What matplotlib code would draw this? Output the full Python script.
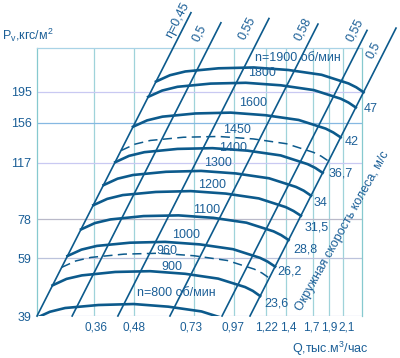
import matplotlib
matplotlib.use("Agg")
import matplotlib.pyplot as plt
from matplotlib.ticker import NullLocator, NullFormatter
from matplotlib.transforms import ScaledTranslation

plt.rcParams['font.family'] = ['Liberation Sans', 'DejaVu Sans']

# Axis ticks
x_ticks = [0.36, 0.48, 0.73, 0.97, 1.22, 1.4, 1.7, 1.9, 2.1]
x_labels = ["0,36", "0,48", "0,73", "0,97", "1,22", "1,4", "1,7", "1,9", "2,1"]
y_ticks = [39, 59, 78, 117, 156, 195]
y_labels = ["39", "59", "78", "117", "156", "195"]

# Fan curves, Q (thousand m3/h) and Pv (kgf/m2)
q800 = [0.239, 0.264, 0.294, 0.372, 0.477, 0.610, 0.771, 0.934, 0.986, 1.038]
p800 = [38.4, 40.2, 41.3, 42.2, 42.5, 41.7, 40.3, 37.9, 36.9, 35.6]
q900 = [0.269, 0.297, 0.331, 0.419, 0.536, 0.687, 0.868, 1.050, 1.109, 1.168]
p900 = [48.6, 50.9, 52.2, 53.5, 53.8, 52.8, 51.0, 48.0, 46.7, 45.0]
q960 = [0.287, 0.317, 0.353, 0.446, 0.572, 0.732, 0.925, 1.120, 1.183, 1.246]
p960 = [55.3, 57.9, 59.4, 60.8, 61.2, 60.1, 58.1, 54.6, 53.1, 51.2]
q1000 = [0.299, 0.330, 0.368, 0.465, 0.596, 0.763, 0.964, 1.167, 1.232, 1.298]
p1000 = [60.0, 62.8, 64.5, 66.0, 66.4, 65.2, 63.0, 59.2, 57.6, 55.6]
q1100 = [0.329, 0.363, 0.405, 0.512, 0.656, 0.839, 1.060, 1.284, 1.355, 1.428]
p1100 = [72.6, 76.0, 78.0, 79.9, 80.3, 78.9, 76.2, 71.6, 69.7, 67.3]
q1200 = [0.359, 0.396, 0.442, 0.558, 0.715, 0.916, 1.157, 1.400, 1.478, 1.558]
p1200 = [86.4, 90.4, 92.9, 95.0, 95.6, 93.9, 90.7, 85.2, 82.9, 80.1]
q1300 = [0.386, 0.426, 0.475, 0.600, 0.769, 0.984, 1.244, 1.505, 1.589, 1.674]
p1300 = [99.8, 104.5, 107.3, 109.8, 110.5, 108.5, 104.8, 98.5, 95.9, 92.5]
q1400 = [0.419, 0.462, 0.515, 0.651, 0.834, 1.068, 1.350, 1.634, 1.725, 1.817]
p1400 = [117.6, 123.1, 126.4, 129.4, 130.1, 127.8, 123.5, 116.0, 112.9, 109.0]
q1450 = [0.437, 0.482, 0.537, 0.679, 0.870, 1.114, 1.407, 1.704, 1.799, 1.895]
p1450 = [127.9, 133.9, 137.5, 140.7, 141.5, 139.0, 134.3, 126.2, 122.8, 118.5]
q1600 = [0.475, 0.525, 0.585, 0.739, 0.948, 1.213, 1.533, 1.856, 1.959, 2.064]
p1600 = [151.7, 158.8, 163.1, 166.9, 167.9, 164.8, 159.3, 149.7, 145.6, 140.6]
q1800 = [0.529, 0.584, 0.651, 0.823, 1.055, 1.351, 1.706, 2.066, 2.181, 2.297]
p1800 = [188.0, 196.7, 202.1, 206.8, 208.0, 204.3, 197.4, 185.5, 180.5, 174.2]
q1900 = [0.559, 0.617, 0.688, 0.870, 1.115, 1.427, 1.803, 2.182, 2.304, 2.427]
p1900 = [209.8, 219.6, 225.6, 230.8, 232.2, 228.0, 220.3, 207.0, 201.4, 194.4]

solid_curves = [(q800, p800), (q900, p900), (q1000, p1000), (q1100, p1100),
                (q1200, p1200), (q1300, p1300), (q1400, p1400), (q1600, p1600),
                (q1800, p1800), (q1900, p1900)]
dashed_curves = [(q960, p960), (q1450, p1450)]

# Efficiency lines: bottom and top end points
eta_labels = ["\u03b7=0,45", "0,5", "0,55", "0,58", "0,55", "0,5"]
eta_q = [(0.241, 0.716), (0.309, 0.885), (0.427, 1.243), (0.617, 1.758), (0.892, 2.487), (1.087, 3.053)]
eta_p = [(39, 344), (39, 320), (39, 330), (39, 317), (39, 303), (39, 308)]

# Curve labels and peripheral speed labels
speed_labels = ["n=1900 об/мин", "1800", "1600", "1450", "1400", "1300", "1200",
                "1100", "1000", "960", "900", "n=800 об/мин"]
tip_speeds = ["47", "42", "36,7", "34", "31,5", "28,8", "26,2", "23,6"]

line_c = "#0c5a8c"
text_c = "#1b5f97"

fig = plt.figure(figsize=(4, 3.58), dpi=100)
ax = fig.add_axes([37 / 400, 1 - 316 / 358, 325 / 400, 268 / 358])
ax.set_xscale("log")
ax.set_yscale("log")
ax.set_xlim(0.241, 2.40)
ax.set_ylim(39, 267)

for axis in (ax.xaxis, ax.yaxis):
    axis.set_minor_locator(NullLocator())
    axis.set_minor_formatter(NullFormatter())
ax.set_xticks(x_ticks, x_labels)
ax.set_yticks(y_ticks, y_labels)
ax.tick_params(length=0, labelsize=9, colors=text_c)
ax.tick_params(axis="x", pad=4, labelsize=8.5)
ax.tick_params(axis="y", pad=4)

# the printed chart puts a few Q labels slightly off the log position
x_shift_px = [2, 0, -3, -1, 0, 3, -2, 0, 4]
for lab, dx in zip(ax.get_xticklabels(), x_shift_px):
    lab.set_transform(lab.get_transform() + ScaledTranslation(dx / 100, 0, fig.dpi_scale_trans))

# grid
for xv in x_ticks:
    ax.axvline(xv, color="#9fd3da", lw=0.9, zorder=1)
h_colors = ["#c6c9e8", "#bcc3dc", "#b9b9c9", "#c9c9f2", "#86b8e2", "#c9c9f2"]
for yv, hc in zip(y_ticks, h_colors):
    ax.axhline(yv, color=hc, lw=0.9, zorder=1)

ax.spines["bottom"].set_visible(False)
ax.spines["left"].set_color("#86c9cf")
ax.spines["right"].set_color("#86c9cf")
ax.spines["top"].set_color("#a9d3e6")
for s in ("left", "right", "top"):
    ax.spines[s].set_linewidth(0.9)

# fan curves
for i, (q, p) in enumerate(solid_curves):
    ax.plot(q, p, color=line_c, lw=1.9, clip_on=(i == 0), zorder=3,
            solid_joinstyle="round")
for q, p in dashed_curves:
    ax.plot(q, p, color=line_c, lw=1.1, dashes=(6, 3.5), clip_on=False, zorder=3)

# efficiency lines
for q, p in zip(eta_q, eta_p):
    ax.plot(q, p, color=line_c, lw=1.2, clip_on=False, zorder=3)


def px(x, y):
    return x / 400, 1 - y / 358


eta_pos = [(178, 20), (199, 33), (247, 28), (303, 29), (355, 30), (373, 50)]
for lab, (x, y) in zip(eta_labels, eta_pos):
    fig.text(*px(x, y), lab, rotation=63, ha="center", va="center",
             rotation_mode="anchor", fontsize=9, color=text_c)

lab_pos = [(298, 58), (262, 73), (253, 103), (237, 130), (233, 148), (218, 163),
           (212, 185), (207, 210), (186, 235), (167, 251), (172, 267), (176, 293)]
for lab, (x, y) in zip(speed_labels, lab_pos):
    fig.text(*px(x, y), lab, ha="center", va="center", fontsize=9, color=text_c)

tip_pos = [(371, 109), (352, 142), (341, 173), (321, 203), (317, 228), (305, 250),
           (290, 272), (276, 303)]
for lab, (x, y) in zip(tip_speeds, tip_pos):
    fig.text(*px(x, y), lab, ha="center", va="center", fontsize=9, color=text_c)

fig.text(*px(343, 231), "Окружная скорость колеса, м/с", rotation=61,
         ha="center", va="center", rotation_mode="anchor", fontsize=9, color=text_c)
fig.text(*px(2, 35), "P$_\\mathregular{v}$,кгс/м$^\\mathregular{2}$", ha="left",
         va="center", fontsize=9, color=text_c)
fig.text(*px(330, 349), "Q,тыс.м$^\\mathregular{3}$/час", ha="center", va="center",
         fontsize=9, color=text_c)

fig.savefig("out.png", dpi=100)
